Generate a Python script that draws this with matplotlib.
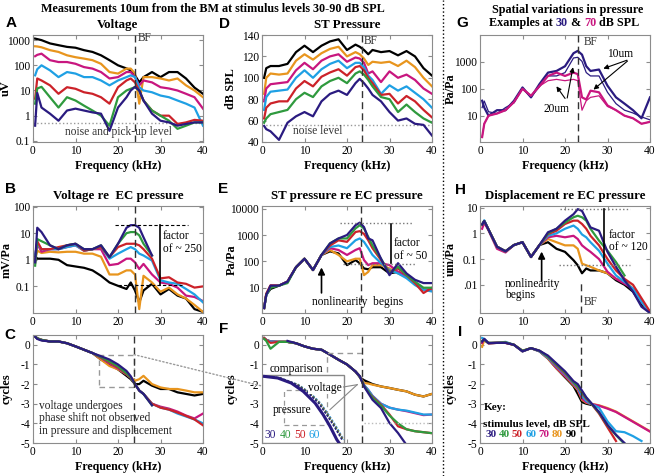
import numpy as np
import matplotlib
matplotlib.use('Agg')
import matplotlib.pyplot as plt
from matplotlib.patches import Rectangle, ConnectionPatch
from matplotlib.lines import Line2D
from matplotlib.ticker import NullLocator

# frequency grid (kHz) shared by all traces
FREQ = [0.5, 1, 2, 4, 6, 8, 10, 12, 14, 16, 18, 20, 22, 23, 24, 25, 26, 28, 30, 32, 34, 36, 38, 40]
LEVELS = [30, 40, 50, 60, 70, 80, 90]
COLORS = {30: '#2a1b80', 40: '#2f9a3e', 50: '#cc2229', 60: '#1fa0e4',
          70: '#c8167f', 80: '#e8951e', 90: '#000000'}

# A: voltage (uV)
volt = {
    90: [1150, 1100, 1000, 740, 630, 540, 500, 400, 340, 250, 160, 100, 75, 63, 40, 21, 34, 54, 34, 54, 54, 30, 13, 7.4],
    80: [570, 560, 520, 400, 340, 250, 210, 185, 160, 115, 54, 47, 74, 74, 47, 3, 34, 34, 30, 25, 30, 16, 10, 5.4],
    70: [230, 260, 290, 160, 135, 135, 115, 85, 74, 54, 30, 34, 54, 54, 34, 16, 25, 21, 13.5, 12, 10, 7.4, 5.4, 1.9],
    60: [40, 70, 100, 63, 34, 54, 47, 34, 34, 25, 16, 25, 34, 40, 34, 13.5, 10, 8.5, 6.3, 5.4, 4, 3, 2.1, 0.4],
    50: [4.7, 30, 25, 16, 7.4, 13.5, 11.7, 8.5, 7.4, 5.4, 3, 13.5, 25, 30, 21, 10, 4, 1.6, 1.0, 1.0, 0.47, 0.54, 0.68, 0.63],
    40: [3, 12, 14, 5.4, 2.1, 5.4, 4, 2.5, 1.6, 1.0, 0.4, 5.4, 10, 11.7, 13.5, 10, 4, 1.6, 1.0, 0.63, 0.3, 0.4, 0.54, 0.54],
    30: [0.4, 8, 2.1, 1.2, 0.63, 1.6, 1.9, 1.6, 1.35, 1.2, 0.25, 2.1, 5.4, 10, 14, 10, 4, 1.2, 0.63, 0.54, 0.4, 0.47, 0.54, 0.54],
}

# D: ST pressure (dB SPL)
st_press = {
    90: [100, 109, 111, 111, 113, 124, 130, 124, 130, 134, 136, 126, 131, 129, 126, 122, 126, 124, 125, 121, 125, 120, 109, 102],
    80: [85, 100, 104, 103, 104, 116, 122, 117, 123, 127, 129, 120, 124, 122, 118, 112, 115, 114, 115, 111, 116, 110, 100, 92],
    70: [78, 90, 94, 95, 96, 107, 114, 108, 116, 120, 122, 115, 119, 118, 114, 104, 106, 96, 106, 100, 103, 98, 90, 85],
    60: [70, 82, 87, 88, 89, 100, 107, 100, 108, 113, 116, 109, 114, 114, 110, 102, 98, 85, 93, 88, 92, 86, 80, 72],
    50: [62, 72, 76, 78, 78, 90, 97, 92, 101, 105, 108, 102, 110, 111, 107, 100, 95, 84, 85, 76, 83, 78, 70, 63],
    40: [58, 62, 66, 68, 70, 80, 86, 82, 92, 97, 100, 95, 104, 106, 103, 98, 92, 82, 80, 68, 75, 68, 62, 58],
    30: [55, 52, 50, 42, 58, 64, 68, 64, 78, 85, 88, 84, 95, 99, 95, 90, 84, 78, 68, 60, 62, 57, 56, 46],
}

# G: spatial variation (Pa/Pa), 30 and 70 dB at 10um and 20um
g_30_10um = [36, 20, 10, 16, 16, 36, 112, 48, 150, 400, 460, 690, 2100, 2570, 1860, 690, 460, 520, 130, 48, 28, 16, 8, 48]
g_30_20um = [20, 35, 14, 12, 20, 30, 100, 50, 120, 300, 300, 400, 1400, 1480, 1050, 400, 300, 300, 74, 28, 16, 12.6, 9, 7]
g_70_10um = [1.6, 5, 10, 12, 16, 32, 100, 55, 126, 300, 400, 300, 400, 350, 48, 40, 85, 74, 24, 16, 10, 8, 5, 5.9]
g_70_20um = [1.6, 5, 10, 12, 16, 32, 100, 55, 126, 200, 224, 200, 224, 200, 16, 36, 48, 55, 22, 16, 10, 8, 5, 5.9]

# B: voltage re EC pressure (mV/Pa)
volt_re_ec = {
    90: [1.4, 1.1, 1.1, 1.1, 1.0, 0.63, 0.56, 0.5, 0.4, 0.25, 0.14, 0.105, 0.08, 0.14, 0.07, 0.025, 0.07, 0.125, 0.05, 0.08, 0.045, 0.035, 0.014, 0.011],
    80: [1.0, 2.2, 1.8, 2, 1.9, 2, 2, 1.7, 1.7, 1.3, 0.28, 0.28, 0.4, 0.4, 0.28, 0.014, 0.25, 0.14, 0.063, 0.09, 0.05, 0.035, 0.02, 0.011],
    70: [1.5, 4, 2, 2.5, 2.5, 3, 3.5, 2.2, 2.5, 2.5, 0.63, 0.7, 1.1, 1.1, 0.8, 0.45, 0.7, 0.28, 0.14, 0.125, 0.09, 0.045, 0.04, 0.028],
    60: [1.5, 4, 2.5, 2.5, 2.5, 3, 3.5, 2.2, 2.5, 3, 1.1, 1.7, 2.5, 3, 2.5, 1.7, 1.45, 0.93, 0.17, 0.14, 0.125, 0.08, 0.05, 0.025],
    50: [0.8, 5, 2.5, 2.5, 3, 3.5, 4, 2.2, 2.5, 3, 1.26, 3, 4, 4, 4, 3.5, 2.5, 1.1, 0.2, 0.22, 0.14, 0.125, 0.09, 0.1],
    40: [0.6, 6, 5, 3.5, 2.5, 3.5, 4, 2.5, 2.5, 3.5, 1.26, 4, 10, 11, 11, 8.3, 4, 1.45, None, None, None, None, None, None],
    30: [0.8, 16, 11, 3.5, 2.5, 3.5, 4, 2.5, 2.5, 3.5, 1.26, 4, 16, 20, 20, 16, 7, 1.45, None, None, None, None, None, None],
}

# E: ST pressure re EC pressure (Pa/Pa)
st_re_ec = {
    90: [1.7, 5.4, 9, 12, 17, 60, 126, 47, 175, 240, 200, 72, 112, 85, 54, 50, 60, 60, 35, 40, 26, 15, 8.3, 8.3],
    80: [1.7, 5.4, 12, 12, 17, 60, 126, 47, 175, 270, 175, 100, 126, 126, 30, 40, 72, 72, 54, 35, 26, 15, 8.3, 8.3],
    70: [1.7, 5.4, 12, 12, 17, 60, 126, 47, 175, 316, 270, 175, 270, 316, 112, 72, 85, 85, 72, 40, 26, 15, 8.3, 8.3],
    60: [1.7, 5, 11, 12, 17, 60, 126, 47, 175, 350, 400, 316, 630, 740, 550, 316, 175, 85, 47, 35, 23, 12.6, 8.3, 7.2],
    50: [1.7, 6, 12, 12, 17, 60, 126, 47, 175, 400, 630, 550, 1300, 1400, 1100, 630, 316, 112, 40, 54, 30, 15, 6.3, 10],
    40: [1.7, 5.4, 10, 12, 15, 60, 126, 47, 175, 480, 740, 740, 1780, 2350, 1780, 850, 400, 126, 35, 63, 30, 17, 10, 10],
    30: [1.7, 5.4, 12, 12, 17, 60, 126, 47, 175, 480, 740, 1000, 2350, 2950, 2000, 740, 630, 126, 30, 85, 35, 20, 15, 15],
}

# H: displacement re EC pressure (um/Pa)
disp_re_ec = {
    90: [2.2, 3, 1.4, 0.3, 0.2, 0.35, 0.45, 0.12, 0.35, 0.45, 0.25, 0.19, 0.09, 0.057, 0.028, 0.043, 0.036, 0.036, 0.028, 0.015, 0.01, 0.0054, 0.0017, 0.0008],
    80: [2.0, 3, 1.4, 0.3, 0.2, 0.35, 0.45, 0.12, 0.35, 0.6, 0.45, 0.34, 0.34, 0.25, 0.066, 0.057, 0.05, 0.036, 0.028, 0.017, 0.015, 0.007, 0.0022, 0.0008],
    70: [1.5, 2.6, 1.3, 0.25, 0.18, 0.35, 0.45, 0.12, 0.35, 0.7, 0.8, 0.7, 0.8, 0.6, 0.34, 0.25, 0.19, 0.1, 0.032, 0.017, 0.011, 0.007, 0.0022, 0.0008],
    60: [2.2, 3.2, 1.4, 0.3, 0.2, 0.35, 0.45, 0.12, 0.35, 0.8, 1.0, 1.5, 2.0, 1.5, 0.9, 0.7, 0.45, 0.21, 0.066, 0.023, 0.013, 0.007, 0.0022, 0.0008],
    50: [2.2, 3, 1.4, 0.3, 0.2, 0.35, 0.45, 0.12, 0.35, 0.93, 1.26, 2.3, 3.1, 3.1, 2.3, 1.5, 0.8, 0.34, 0.1, 0.036, 0.017, 0.01, 0.003, 0.0009],
    40: [2.2, 3, 1.4, 0.3, 0.2, 0.35, 0.45, 0.12, 0.35, 1.0, 1.5, 2.6, 4.2, 4.8, 4.2, 3.1, 1.5, 0.52, 0.21, 0.076, 0.023, None, None, None],
    30: [2.2, 3, 1.4, 0.3, 0.2, 0.35, 0.45, 0.12, 0.35, 1.1, 1.5, 3.1, 5.5, 8.7, 7.4, 3.5, 1.7, 1.26, 0.19, 0.05, 0.015, 0.0054, 0.0014, 0.0008],
}

# C: voltage phase (cycles)
volt_phase = {
    90: [0.42, 0.33, 0.25, 0.17, 0.17, 0.08, -0.08, -0.25, -0.42, -0.75, -1.0, -1.25, -1.58, -1.75, -2.0, -2.0, -1.83, -2.08, -2.25, -2.25, -2.42, -2.5, -2.58, -2.5],
    80: [0.42, 0.33, 0.25, 0.17, 0.17, 0.08, -0.08, -0.25, -0.42, -0.75, -1.08, -1.25, -1.5, -1.67, -1.83, -1.75, -1.58, -2.0, -2.17, -2.25, -2.25, -2.33, -2.42, -2.42],
    70: [0.42, 0.33, 0.25, 0.17, 0.17, 0.08, -0.08, -0.25, -0.42, -0.67, -0.95, -1.2, -1.5, -1.67, -2.0, -2.33, -2.5, -3.0, -3.15, -3.25, -3.4, -3.6, -3.75, -3.5],
    60: [0.42, 0.33, 0.25, 0.17, 0.17, 0.08, -0.08, -0.25, -0.42, -0.65, -0.9, -1.15, -1.5, -1.67, -2.0, -2.33, -2.5, -3.0, -3.2, -3.3, -3.5, -3.65, -3.8, -4.0],
    50: [0.42, 0.33, 0.25, 0.17, 0.17, 0.08, -0.08, -0.25, -0.42, -0.65, -0.9, -1.15, -1.5, -1.67, -2.0, -2.33, -2.5, -3.0, -3.2, -3.3, -3.45, -3.62, -3.8, -4.1],
    40: [0.42, 0.33, 0.25, 0.17, 0.17, 0.08, -0.08, -0.25, -0.42, -0.62, -0.85, -1.1, -1.45, -1.65, -2.0, -2.33, -2.5, -3.08, None, None, None, None, None, None],
    30: [0.42, 0.3, 0.22, 0.17, 0.17, 0.08, -0.08, -0.25, -0.42, -0.58, -0.75, -1.0, -1.33, -1.6, -2.0, -2.33, -2.5, -3.08, None, None, None, None, None, None],
}

# F: ST pressure phase (cycles)
press_phase = {
    90: [0.34, 0.25, 0.17, 0.15, 0.15, 0.08, -0.08, -0.2, -0.25, -0.5, -0.76, -1.0, -1.36, -1.65, -1.8, -1.9, -2.0, -2.12, -2.2, -2.29, -2.37, -2.54, -2.63, -2.5],
    80: [0.34, 0.25, 0.17, 0.15, 0.15, 0.08, -0.08, -0.2, -0.25, -0.5, -0.76, -1.0, -1.36, -1.6, -1.95, -1.97, -2.03, -2.12, -2.2, -2.29, -2.37, -2.54, -2.63, -2.5],
    70: [0.34, 0.25, 0.17, 0.15, 0.15, 0.08, -0.08, -0.2, -0.25, -0.5, -0.76, -1.0, -1.36, -1.6, -2.05, -2.3, -2.6, -3.0, -3.2, -3.3, -3.38, -3.48, -3.58, -3.55],
    60: [0.34, 0.25, 0.17, 0.15, 0.15, 0.08, -0.08, -0.2, -0.25, -0.5, -0.76, -1.0, -1.36, -1.6, -2.05, -2.3, -2.6, -3.0, -3.2, -3.3, -3.35, -3.45, -3.55, -3.55],
    50: [0.34, 0.25, 0.1, 0.15, 0.15, 0.08, -0.08, -0.2, -0.25, -0.5, -0.76, -1.0, -1.36, -1.6, -2.1, -2.4, -2.65, -3.05, -3.55, -4.15, -4.3, -4.4, -4.45, -4.5],
    40: [0.3, 0.2, -0.2, 0.15, 0.15, 0.08, -0.08, -0.2, -0.25, -0.5, -0.76, -1.0, -1.36, -1.6, -2.1, -2.4, -2.7, -3.1, -3.6, -4.0, -4.3, -4.4, -4.45, -4.5],
    30: [None, None, None, None, 0.2, 0.08, -0.08, -0.2, -0.25, -0.5, -0.76, -1.0, -1.36, -1.6, -2.12, -2.46, -2.8, -3.22, -3.98, -4.49, -5.1, None, None, None],
}

# F inset: pressure vs voltage phase comparison (drawn in F's own units)
inset_p_x = [0.6, 3.7, 6.9, 9.7, 12.5, 14.4, 16.0, 17.6, 18.4]
inset_p_y = [-1.61, -1.69, -1.95, -2.37, -2.97, -3.56, -4.15, -4.83, -5.08]
inset_v_y = [-1.61, -1.69, -2.03, -2.46, -2.97, -3.56, -4.24, -4.83]
inset_v_x = {
    30: [0.6, 4.1, 8.1, 10.9, 13.3, 15.2, 17.2, 18.8],
    40: [0.6, 4.2, 8.3, 11.1, 13.5, 15.4, 17.4, 19.0],
    50: [0.6, 4.3, 8.4, 11.2, 13.6, 15.5, 17.5, 19.1],
    60: [0.6, 4.4, 8.6, 11.4, 13.8, 15.7, 17.7, 19.2],
}

# I: displacement phase (cycles)
disp_phase = {
    90: [0.1, 0.25, 0.08, 0.1, 0.1, 0.0, -0.33, -0.17, -0.33, -0.7, -1.2, -1.65, -2.1, -2.5, -2.92, -3.0, -3.05, None, None, None, None, None, None, None],
    80: [-0.1, 0.25, 0.08, 0.1, 0.1, 0.0, -0.33, -0.17, -0.33, -0.7, -1.2, -1.6, -2.05, -2.3, -2.8, -2.95, -3.0, -3.08, -3.22, -3.4, -3.65, -3.9, -4.15, -4.4],
    70: [0.1, 0.3, 0.08, 0.1, 0.1, 0.0, -0.33, -0.17, -0.33, -0.67, -1.17, -1.58, -2.0, -2.25, -2.75, -2.92, -3.0, -3.1, -3.25, -3.42, -3.67, -3.92, -4.17, -4.42],
    60: [0.35, 0.3, 0.1, 0.1, 0.15, 0.0, -0.33, -0.17, -0.33, -0.65, -1.1, -1.5, -1.95, -2.2, -2.6, -2.85, -3.0, -3.2, -3.9, -4.4, -4.45, -4.65, -4.9, None],
    50: [0.2, 0.25, 0.1, 0.1, 0.12, 0.0, -0.3, -0.17, -0.3, -0.6, -1.05, -1.45, -1.9, -2.15, -2.45, -2.75, -2.95, -3.5, -4.2, -4.9, None, None, None, None],
    40: [0.2, 0.25, 0.1, 0.1, 0.12, 0.0, -0.3, -0.17, -0.3, -0.6, -1.0, -1.4, -1.9, -2.1, -2.4, -2.7, -2.95, -3.45, -4.1, -4.6, -5.05, None, None, None],
    30: [0.17, 0.3, 0.08, 0.1, 0.1, 0.0, -0.33, -0.17, -0.3, -0.55, -0.95, -1.35, -1.85, -2.0, -2.33, -2.67, -2.92, -3.42, -4.08, -4.58, -5.0, None, None, None],
}

plt.rcParams['font.family'] = ['Liberation Serif', 'DejaVu Serif']
plt.rcParams['font.size'] = 8.3
plt.rcParams['axes.edgecolor'] = '#8c8c8c'
plt.rcParams['axes.linewidth'] = 0.8
plt.rcParams['xtick.direction'] = 'in'
plt.rcParams['ytick.direction'] = 'in'
plt.rcParams['xtick.color'] = '#8c8c8c'
plt.rcParams['ytick.color'] = '#8c8c8c'
plt.rcParams['xtick.labelcolor'] = 'black'
plt.rcParams['ytick.labelcolor'] = 'black'
plt.rcParams['xtick.major.size'] = 3
plt.rcParams['ytick.major.size'] = 3
plt.rcParams['xtick.top'] = True
plt.rcParams['ytick.right'] = True

W, H = 656, 476
fig = plt.figure(figsize=(W / 100, H / 100), dpi=100)

COL_LEFT = [33, 262, 480]
LABEL_X = [-0.122, -0.145, -0.135]  # right edge of y labels, axes units
ROWS = [(35, 142), (206, 313), (335, 443)]
ANN = 8.3

def new_ax(col, row):
    top, bot = ROWS[row]
    ax = fig.add_axes([COL_LEFT[col] / W, 1 - bot / H, 170 / W, (bot - top) / H])
    ax.col = col
    return ax

def setup(ax, ylim, yticks, ylabels, ylabel, log=False, xlabel=True, title=None):
    if log:
        ax.set_yscale('log')
    ax.set_xlim(0, 40)
    ax.set_ylim(*ylim)
    ax.set_xticks([0, 10, 20, 30, 40])
    ax.set_yticks(yticks)
    ax.set_yticklabels(ylabels)
    ax.yaxis.set_minor_locator(NullLocator())
    ax.tick_params(labelsize=8.3, pad=2)
    ax.set_ylabel(ylabel, fontweight='bold', fontsize=8.8)
    ax.yaxis.set_label_coords(LABEL_X[ax.col], 0.5)
    if xlabel:
        ax.set_xlabel('Frequency (kHz)', fontweight='bold', fontsize=8.6, labelpad=2)
    if title:
        ax.set_title(title, fontweight='bold', fontsize=9.3, pad=5)

def draw(ax, data, lw=1.6):
    for lev in LEVELS[::-1]:
        ax.plot(FREQ, np.array(data[lev], dtype=float), color=COLORS[lev], lw=lw, zorder=2)

def bf_line(ax, x, y0=None, y1=None):
    lo, hi = ax.get_ylim()
    ax.plot([x, x], [y0 if y0 else lo, y1 if y1 else hi], color='#333333', lw=1,
            ls=(0, (5, 3)), zorder=3)

# ---- A: voltage
axA = new_ax(0, 0)
setup(axA, (0.09, 1600), [0.1, 1, 10, 100, 1000], ['0.1', '1', '10', '100', '1000'], 'uV', log=True,
      title='Voltage')
axA.axhline(0.5, color='#999999', ls=':', lw=1, zorder=1)
draw(axA, volt)
bf_line(axA, 24)
axA.text(24.6, 950, 'BF', fontsize=ANN, color='#333333')
axA.text(20, 0.22, 'noise and pick-up level', ha='center', va='center', fontsize=ANN, color='#333333')

# ---- D: ST pressure
axD = new_ax(1, 0)
setup(axD, (40, 140), [40, 60, 80, 100, 120, 140], ['40', '60', '80', '100', '120', '140'], 'dB SPL',
      title='ST Pressure')
axD.axhline(56, color='#999999', ls=':', lw=1, zorder=1)
draw(axD, st_press)
bf_line(axD, 23.5)
axD.text(24, 132, 'BF', fontsize=ANN, color='#333333')
axD.text(7.3, 50.5, 'noise level', va='center', fontsize=ANN, color='#333333')

# ---- G: spatial variation
axG = new_ax(2, 0)
setup(axG, (1.05, 10000), [10, 100, 1000], ['10', '100', '1000'], 'Pa/Pa', log=True)
axG.plot(FREQ, g_30_20um, color=COLORS[30], lw=0.9)
axG.plot(FREQ, g_30_10um, color=COLORS[30], lw=1.6)
axG.plot(FREQ, g_70_20um, color=COLORS[70], lw=0.9)
axG.plot(FREQ, g_70_10um, color=COLORS[70], lw=1.6)
bf_line(axG, 23)
axG.text(24.3, 4300, 'BF', fontsize=ANN, color='#333333')
axG.text(33, 1950, '10um', ha='center', va='center', fontsize=ANN)
for tx, ty in [(28.4, 520), (26.2, 80)]:
    axG.annotate('', xy=(tx, ty), xytext=(35.2, 1250),
                 arrowprops=dict(arrowstyle='-|>', color='k', lw=0.8, mutation_scale=7))
axG.text(18, 18, '20um', ha='center', va='center', fontsize=ANN)
for tx, ty in [(17.6, 150), (22, 800)]:
    axG.annotate('', xy=(tx, ty), xytext=(20.4, 36),
                 arrowprops=dict(arrowstyle='-|>', color='k', lw=0.8, mutation_scale=7))

# ---- B: voltage re EC pressure
axB = new_ax(0, 1)
setup(axB, (0.01, 105), [0.1, 1, 10, 100], ['0.1', '1', '10', '100'], 'mV/Pa', log=True,
      xlabel=False, title='Voltage re  EC pressure')
draw(axB, volt_re_ec)
bf_line(axB, 24)
axB.plot([19.2, 36.5], [20, 20], color='k', ls=(0, (3, 2)), lw=0.8)
axB.plot([20, 35], [0.11, 0.11], color='k', ls=(0, (3, 2)), lw=0.8)
axB.plot([29.8, 29.8], [20, 0.11], color='k', lw=1.2)
axB.text(30.6, 4.5, 'factor\nof ~ 250', va='center', fontsize=ANN, linespacing=1.1)

# ---- E: ST pressure re EC pressure
axE = new_ax(1, 1)
setup(axE, (1.1, 12600), [10, 100, 1000, 10000], ['10', '100', '1000', '10000'], 'Pa/Pa', log=True,
      xlabel=False, title='ST pressure re EC pressure')
draw(axE, st_re_ec)
bf_line(axE, 23.3)
axE.plot([18.4, 35.5], [2800, 2800], color='#777777', ls=':', lw=1)
axE.plot([19, 36], [80, 80], color='#777777', ls=':', lw=1)
axE.plot([30.3, 30.3], [2700, 85], color='k', lw=1.2)
axE.text(31, 280, 'factor\nof ~ 50', va='center', fontsize=ANN, linespacing=1.1)
axE.annotate('', xy=(14, 75), xytext=(14, 5),
             arrowprops=dict(arrowstyle='-|>', color='k', lw=1.2, mutation_scale=10))
axE.text(11.7, 2.8, 'nonlinearity  begins', va='center', fontsize=ANN)

# ---- H: displacement re EC pressure
axH = new_ax(2, 1)
setup(axH, (0.0008, 11.5), [0.01, 0.1, 1, 10], ['.01', '0.1', '1', '10'], 'um/Pa', log=True,
      xlabel=False, title='Displacement re EC pressure')
draw(axH, disp_re_ec)
bf_line(axH, 23.8, 0.0008, 0.012)
axH.text(24.4, 0.0022, 'BF', va='center', fontsize=ANN, color='#333333')
axH.plot([18.8, 35.3], [8.5, 8.5], color='#777777', ls=':', lw=1)
axH.plot([18.5, 35.3], [0.06, 0.06], color='#777777', ls=':', lw=1)
axH.plot([29.2, 29.2], [8.5, 0.06], color='k', lw=1.2)
axH.text(30.3, 0.5, 'factor\nof ~ 120', va='center', fontsize=ANN, linespacing=1.1)
axH.annotate('', xy=(14.5, 0.25), xytext=(14.5, 0.011),
             arrowprops=dict(arrowstyle='-|>', color='k', lw=1.2, mutation_scale=10))
axH.text(5.9, 0.0066, 'nonlinearity\nbegins', va='center', fontsize=ANN, linespacing=0.95)

# ---- C: voltage phase
axC = new_ax(0, 2)
setup(axC, (-5, 0.5), [-5, -4, -3, -2, -1, 0], ['-5', '-4', '-3', '-2', '-1', '0'], 'cycles')
draw(axC, volt_phase)
bf_line(axC, 23.7)
axC.add_patch(Rectangle((15.5, -2.17), 8.3, 1.67, fill=False, ec='#999999', ls=(0, (4, 3)), lw=1))
axC.text(1.5, -3.75, 'voltage undergoes\nphase shift not observed\nin pressure and displacement',
         va='center', fontsize=ANN, linespacing=1.05, color='#222222')

# ---- F: pressure phase
axF = new_ax(1, 2)
setup(axF, (-5, 0.5), [-5, -4, -3, -2, -1, 0], ['-5', '-4', '-3', '-2', '-1', '0'], 'cycles')
draw(axF, press_phase)
bf_line(axF, 23.6)
axF.plot([15.2, 15.2, 24], [-1.4, -0.42, -0.42], color='#999999', ls=(0, (4, 3)), lw=1)
axF.plot([24, 40], [-4.0, -4.0], color='#bbbbbb', ls=':', lw=1)
axF.add_patch(Rectangle((0, -5), 19.2, 3.47, fill=True, fc='white', ec='#888888', lw=1, zorder=4))
axF.add_patch(Rectangle((5.1, -4.07), 10.1, 1.78, fill=False, ec='#999999', ls=(0, (4, 3)), lw=0.9, zorder=5))
axF.plot([15.2, 22.4], [-2.29, -2.03], color='#888888', lw=0.8, zorder=5)
axF.plot([16.0, 22.4], [-3.3, -2.03], color='#888888', lw=0.8, zorder=5)
for lev in [60, 50, 40, 30]:
    axF.plot(inset_v_x[lev], inset_v_y, color=COLORS[lev], lw=1.1, ls=(0, (1.5, 1)), zorder=6)
axF.plot(inset_p_x, inset_p_y, color=COLORS[30], lw=2.2, zorder=7)
axF.text(1.7, -1.24, 'comparison', va='center', fontsize=ANN, zorder=8)
axF.text(10.9, -2.2, 'voltage', va='center', fontsize=ANN, zorder=8,
         bbox=dict(fc='white', ec='none', pad=0.3))
axF.text(2.5, -3.3, 'pressure', va='center', fontsize=ANN, zorder=8)
for lev, xx in zip([30, 40, 50, 60], [0.6, 4.1, 7.7, 10.9]):
    axF.text(xx, -4.6, str(lev), color=COLORS[lev], va='center', fontsize=ANN, zorder=8)

# ---- I: displacement phase
axI = new_ax(2, 2)
setup(axI, (-5, 0.5), [-5, -4, -3, -2, -1, 0], ['-5', '-4', '-3', '-2', '-1', '0'], 'cycles')
draw(axI, disp_phase)
bf_line(axI, 23.7)
axI.text(0.8, -3.2, 'Key:', va='center', fontsize=8, fontweight='bold')
axI.text(0.8, -4.05, 'stimulus level, dB SPL', va='center', fontsize=8, fontweight='bold')
for i, lev in enumerate(LEVELS):
    axI.text(1.2 + 3.15 * i, -4.57, str(lev), color=COLORS[lev], va='center', fontsize=8,
             fontweight='bold')

# dotted link from C's box to F's inset
fig.add_artist(ConnectionPatch(xyA=(23.8, -0.5), coordsA=axC.transData, xyB=(0, -2.1),
                               coordsB=axF.transData, color='#999999', ls=':', lw=1))

# vertical dotted separator
fig.add_artist(Line2D([443 / W, 443 / W], [0, 1], transform=fig.transFigure, color='k', ls=':', lw=1))

# panel letters
for lab, px, py in [('A', 11, 23), ('D', 224, 24), ('G', 462, 23), ('B', 11, 189), ('E', 223, 189),
                    ('H', 461, 190), ('C', 10, 335), ('F', 224, 329), ('I', 460, 332)]:
    fig.text(px / W, 1 - py / H, lab, family=['Liberation Sans', 'DejaVu Sans'], fontweight='bold',
             fontsize=11, ha='center', va='center')

# headers
fig.text(213 / W, 1 - 9 / H, 'Measurements 10um from the BM at stimulus levels 30-90 dB SPL',
         ha='center', va='center', fontweight='bold', fontsize=8.7)
fig.text(568 / W, 1 - 10 / H, 'Spatial variations in pressure', ha='center', va='center',
         fontweight='bold', fontsize=8.7)

renderer = fig.canvas.get_renderer()
x = 489 / W
for s, c in [('Examples at ', 'black'), ('30', COLORS[30]), (' & ', 'black'), ('70', COLORS[70]),
             (' dB SPL', 'black')]:
    t = fig.text(x, 1 - 23 / H, s, color=c, ha='left', va='center', fontweight='bold', fontsize=8.7)
    x += t.get_window_extent(renderer).width / fig.bbox.width

fig.savefig('out.png', dpi=100)
